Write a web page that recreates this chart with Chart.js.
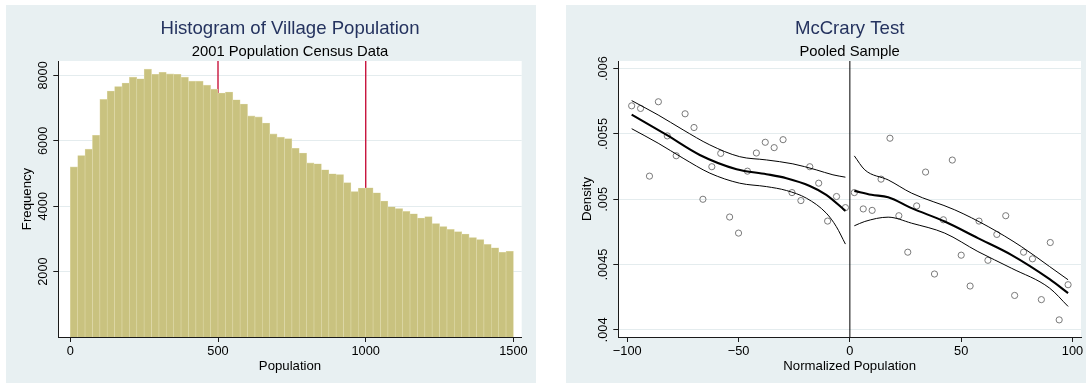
<!DOCTYPE html>
<html>
<head>
<meta charset="utf-8">
<script src="https://cdn.jsdelivr.net/npm/chart.js@4.4.1/dist/chart.umd.min.js"></script>
<style>
  html, body { margin: 0; padding: 0; background: #ffffff; }
  body { width: 1086px; height: 388px; position: relative; overflow: hidden; }
  .panel { position: absolute; background: #e8f0f2; }
  #p1 { left: 6px; top: 5px; width: 530px; height: 378px; }
  #p2 { left: 566px; top: 5px; width: 520px; height: 378px; }
  canvas { display: block; }
</style>
</head>
<body>
<div class="panel" id="p1"><canvas id="hist" width="530" height="378"></canvas></div>
<div class="panel" id="p2"><canvas id="mccrary" width="520" height="378"></canvas></div>
<script>
// ---------- Histogram of village population (bins of 25) ----------
const binCentres = [
  12.5, 37.5, 62.5, 87.5, 112.5, 137.5, 162.5, 187.5, 212.5, 237.5,
  262.5, 287.5, 312.5, 337.5, 362.5, 387.5, 412.5, 437.5, 462.5, 487.5,
  512.5, 537.5, 562.5, 587.5, 612.5, 637.5, 662.5, 687.5, 712.5, 737.5,
  762.5, 787.5, 812.5, 837.5, 862.5, 887.5, 912.5, 937.5, 962.5, 987.5,
  1012.5, 1037.5, 1062.5, 1087.5, 1112.5, 1137.5, 1162.5, 1187.5, 1212.5, 1237.5,
  1262.5, 1287.5, 1312.5, 1337.5, 1362.5, 1387.5, 1412.5, 1437.5, 1462.5, 1487.5
];
const frequency = [
  5200, 5550, 5745, 6170, 7265, 7520, 7660, 7765, 7945, 7895,
  8190, 8035, 8095, 8045, 8035, 7945, 7825, 7825, 7700, 7580,
  7460, 7490, 7255, 7125, 6760, 6730, 6545, 6210, 6110, 6065,
  5770, 5625, 5325, 5295, 5115, 4990, 4970, 4720, 4450, 4555,
  4565, 4410, 4160, 3980, 3930, 3840, 3770, 3640, 3680, 3470,
  3380, 3290, 3220, 3150, 3040, 2980, 2830, 2730, 2590, 2620
];
const cutoffs = [500, 1000];
const histXTicks = [0, 500, 1000, 1500];
const histXLabels = ['0', '500', '1000', '1500'];
const histYTicks = [2000, 4000, 6000, 8000];
const histYLabels = ['2000', '4000', '6000', '8000'];
const histXRange = [-40.6, 1528];
const histYRange = [0, 8440];

// ---------- McCrary density test ----------
const leftBins = [-98, -94, -90, -86, -82, -78, -74, -70, -66, -62, -58, -54, -50,
                  -46, -42, -38, -34, -30, -26, -22, -18, -14, -10, -6, -2];
const leftDensity = [0.005715, 0.005695, 0.005177, 0.005746, 0.005485, 0.005333, 0.005654,
                     0.005549, 0.005000, 0.005249, 0.005351, 0.004864, 0.004741, 0.005215,
                     0.005354, 0.005436, 0.005395, 0.005456, 0.005051, 0.004990, 0.005249,
                     0.005123, 0.004833, 0.005021, 0.004936];
const rightBins = [2, 6, 10, 14, 18, 22, 26, 30, 34, 38, 42, 46, 50,
                   54, 58, 62, 66, 70, 74, 78, 82, 86, 90, 94, 98];
const rightDensity = [0.005051, 0.004926, 0.004915, 0.005154, 0.005467, 0.004874, 0.004595,
                      0.004949, 0.005208, 0.004428, 0.004843, 0.005300, 0.004572, 0.004336,
                      0.004833, 0.004533, 0.004731, 0.004874, 0.004264, 0.004595, 0.004544,
                      0.004232, 0.004669, 0.004077, 0.004346];

// local linear fit and 95% band, left of the cutoff
const leftFitX = [-98, -82.3, -67.4, -50.9, -37.5, -28.5, -18, -10.6, -2];
const leftFitY = [0.005648, 0.005492, 0.005339, 0.005230, 0.005192, 0.005161, 0.005102, 0.005034, 0.004911];
const leftHiX = [-98, -86.1, -74.9, -62.9, -49.5, -37.5, -25.6, -15.1, -7.6, -2];
const leftHiY = [0.005755, 0.005645, 0.005531, 0.005416, 0.005326, 0.005301, 0.005271, 0.005225, 0.005187, 0.005169];
const leftLoX = [-98, -86.1, -74.9, -62.9, -49.5, -37.5, -28.5, -19.5, -10.6, -6.1, -2];
const leftLoY = [0.005540, 0.005429, 0.005314, 0.005200, 0.005123, 0.005097, 0.005067, 0.005008, 0.004894, 0.004791, 0.004657];

// local linear fit and 95% band, right of the cutoff
const rightFitX = [2, 9.7, 17.2, 27.7, 42.6, 57.5, 72.5, 89.7, 98];
const rightFitY = [0.005064, 0.005034, 0.005016, 0.004932, 0.004830, 0.004703, 0.004575, 0.004389, 0.004282];
const rightHiX = [2, 6.7, 17.2, 27.7, 47.1, 62.1, 77, 89.7, 98];
const rightHiY = [0.005332, 0.005225, 0.005148, 0.005047, 0.004919, 0.004791, 0.004638, 0.004485, 0.004384];
const rightLoX = [2, 6.7, 17.2, 27.7, 42.6, 57.5, 72.5, 89.7, 98];
const rightLoY = [0.004797, 0.004830, 0.004863, 0.004817, 0.004741, 0.004600, 0.004473, 0.004320, 0.004180];

const mcXTicks = [-100, -50, 0, 50, 100];
const mcXLabels = ['\u2212100', '\u221250', '0', '50', '100'];
const mcYTicks = [0.004, 0.0045, 0.005, 0.0055, 0.006];
const mcYLabels = ['.004', '.0045', '.005', '.0055', '.006'];
const mcXRange = [-104, 103.8];
const mcYRange = [0.003946, 0.006058];

// ---------- shared styling ----------
const FONT = '"Liberation Sans", Arial, Helvetica, sans-serif';
const TITLE_COLOR = '#25335f';
const AXIS_COLOR = '#1a1a1a';
const GRID_COLOR = '#e4ecee';

const pts = (xs, ys) => xs.map((x, i) => ({ x: x, y: ys[i] }));

// White plot region, titles, tick labels and axis titles in the Stata style
function stataFrame(cfg) {
  return {
    id: 'stataFrame',
    beforeDraw(chart) {
      const { ctx, chartArea: a } = chart;
      ctx.save();
      ctx.fillStyle = '#ffffff';
      ctx.fillRect(a.left, a.top, a.right - a.left, a.bottom - a.top);
      ctx.restore();
    },
    afterDraw(chart) {
      const { ctx, chartArea: a, scales } = chart;
      const cx = (a.left + a.right) / 2;
      const cy = (a.top + a.bottom) / 2;
      ctx.save();
      ctx.textAlign = 'center';
      ctx.textBaseline = 'alphabetic';

      ctx.fillStyle = TITLE_COLOR;
      ctx.font = '18.6px ' + FONT;
      ctx.fillText(cfg.title, cx, 29.3);
      ctx.fillStyle = '#000000';
      ctx.font = '14.8px ' + FONT;
      ctx.fillText(cfg.subtitle, cx, 50.7);

      ctx.font = '12.8px ' + FONT;
      cfg.xTicks.forEach((v, i) => {
        ctx.fillText(cfg.xLabels[i], scales.x.getPixelForValue(v), a.bottom + 18);
      });
      ctx.font = '13.2px ' + FONT;
      ctx.fillText(cfg.xTitle, cx, a.bottom + 33);

      ctx.font = '12.8px ' + FONT;
      cfg.yTicks.forEach((v, i) => {
        ctx.save();
        ctx.translate(a.left - 11, scales.y.getPixelForValue(v));
        ctx.rotate(-Math.PI / 2);
        ctx.fillText(cfg.yLabels[i], 0, 0);
        ctx.restore();
      });
      ctx.font = '13.2px ' + FONT;
      ctx.save();
      ctx.translate(a.left - 27, cy);
      ctx.rotate(-Math.PI / 2);
      ctx.fillText(cfg.yTitle, 0, 0);
      ctx.restore();
      ctx.restore();
    }
  };
}

function axes(xRange, yRange, xTicks, yTicks) {
  return {
    x: {
      type: 'linear',
      min: xRange[0], max: xRange[1],
      offset: false,
      afterBuildTicks: s => { s.ticks = xTicks.map(v => ({ value: v })); },
      afterFit: s => { s.height = 46; },
      ticks: { display: false },
      grid: { display: true, offset: false, drawOnChartArea: false, drawTicks: true,
              tickLength: 5, color: AXIS_COLOR, tickColor: AXIS_COLOR, lineWidth: 1 },
      border: { display: true, color: AXIS_COLOR, width: 1 }
    },
    y: {
      type: 'linear',
      min: yRange[0], max: yRange[1],
      afterBuildTicks: s => { s.ticks = yTicks.map(v => ({ value: v })); },
      afterFit: s => { s.width = 52.3; },
      ticks: { display: false },
      grid: { display: true, drawOnChartArea: true, drawTicks: true, tickLength: 5,
              color: GRID_COLOR, tickColor: AXIS_COLOR, lineWidth: 1 },
      border: { display: true, color: AXIS_COLOR, width: 1 }
    }
  };
}

const common = {
  responsive: false,
  animation: false,
  devicePixelRatio: 1,
  events: [],
  plugins: { legend: { display: false }, tooltip: { enabled: false }, title: { display: false } }
};

// ---------- left: histogram ----------
new Chart(document.getElementById('hist'), {
  type: 'bar',
  data: {
    datasets: [
      {
        type: 'bar',
        data: pts(binCentres, frequency),
        backgroundColor: 'rgb(201,194,127)',
        borderColor: 'rgb(224,219,172)',
        borderWidth: { top: 0.6, left: 0.6, right: 0.6, bottom: 0 },
        borderSkipped: false,
        barPercentage: 1,
        categoryPercentage: 1,
        order: 1
      },
      ...cutoffs.map(c => ({
        type: 'line',
        data: [{ x: c, y: histYRange[0] }, { x: c, y: histYRange[1] }],
        borderColor: '#c8143c',
        borderWidth: 1.4,
        pointRadius: 0,
        order: 2
      }))
    ]
  },
  options: Object.assign({}, common, {
    layout: { padding: { top: 56, right: 14.3, left: 0, bottom: 0 } },
    scales: axes(histXRange, histYRange, histXTicks, histYTicks)
  }),
  plugins: [stataFrame({
    title: 'Histogram of Village Population',
    subtitle: '2001 Population Census Data',
    xTitle: 'Population', yTitle: 'Frequency',
    xTicks: histXTicks, xLabels: histXLabels,
    yTicks: histYTicks, yLabels: histYLabels
  })]
});

// ---------- right: McCrary test ----------
const curve = (xs, ys, w) => ({
  type: 'line',
  data: pts(xs, ys),
  showLine: true,
  borderColor: '#000000',
  borderWidth: w,
  pointRadius: 0,
  cubicInterpolationMode: 'monotone',
  order: 1
});
const bins = (xs, ys) => ({
  type: 'scatter',
  data: pts(xs, ys),
  showLine: false,
  pointStyle: 'circle',
  pointRadius: 3.1,
  pointBorderWidth: 1,
  pointBorderColor: '#7a7a7a',
  pointBackgroundColor: 'rgba(0,0,0,0)',
  order: 2
});

new Chart(document.getElementById('mccrary'), {
  type: 'scatter',
  data: {
    datasets: [
      bins(leftBins, leftDensity),
      bins(rightBins, rightDensity),
      curve(leftHiX, leftHiY, 1),
      curve(leftLoX, leftLoY, 1),
      curve(leftFitX, leftFitY, 2.1),
      curve(rightHiX, rightHiY, 1),
      curve(rightLoX, rightLoY, 1),
      curve(rightFitX, rightFitY, 2.1),
      {
        type: 'line',
        data: [{ x: 0, y: mcYRange[0] }, { x: 0, y: mcYRange[1] }],
        showLine: true,
        borderColor: '#000000',
        borderWidth: 1,
        pointRadius: 0,
        order: 3
      }
    ]
  },
  options: Object.assign({}, common, {
    layout: { padding: { top: 56, right: 4.3, left: 0, bottom: 0 } },
    scales: axes(mcXRange, mcYRange, mcXTicks, mcYTicks)
  }),
  plugins: [stataFrame({
    title: 'McCrary Test',
    subtitle: 'Pooled Sample',
    xTitle: 'Normalized Population', yTitle: 'Density',
    xTicks: mcXTicks, xLabels: mcXLabels,
    yTicks: mcYTicks, yLabels: mcYLabels
  })]
});
</script>
</body>
</html>
